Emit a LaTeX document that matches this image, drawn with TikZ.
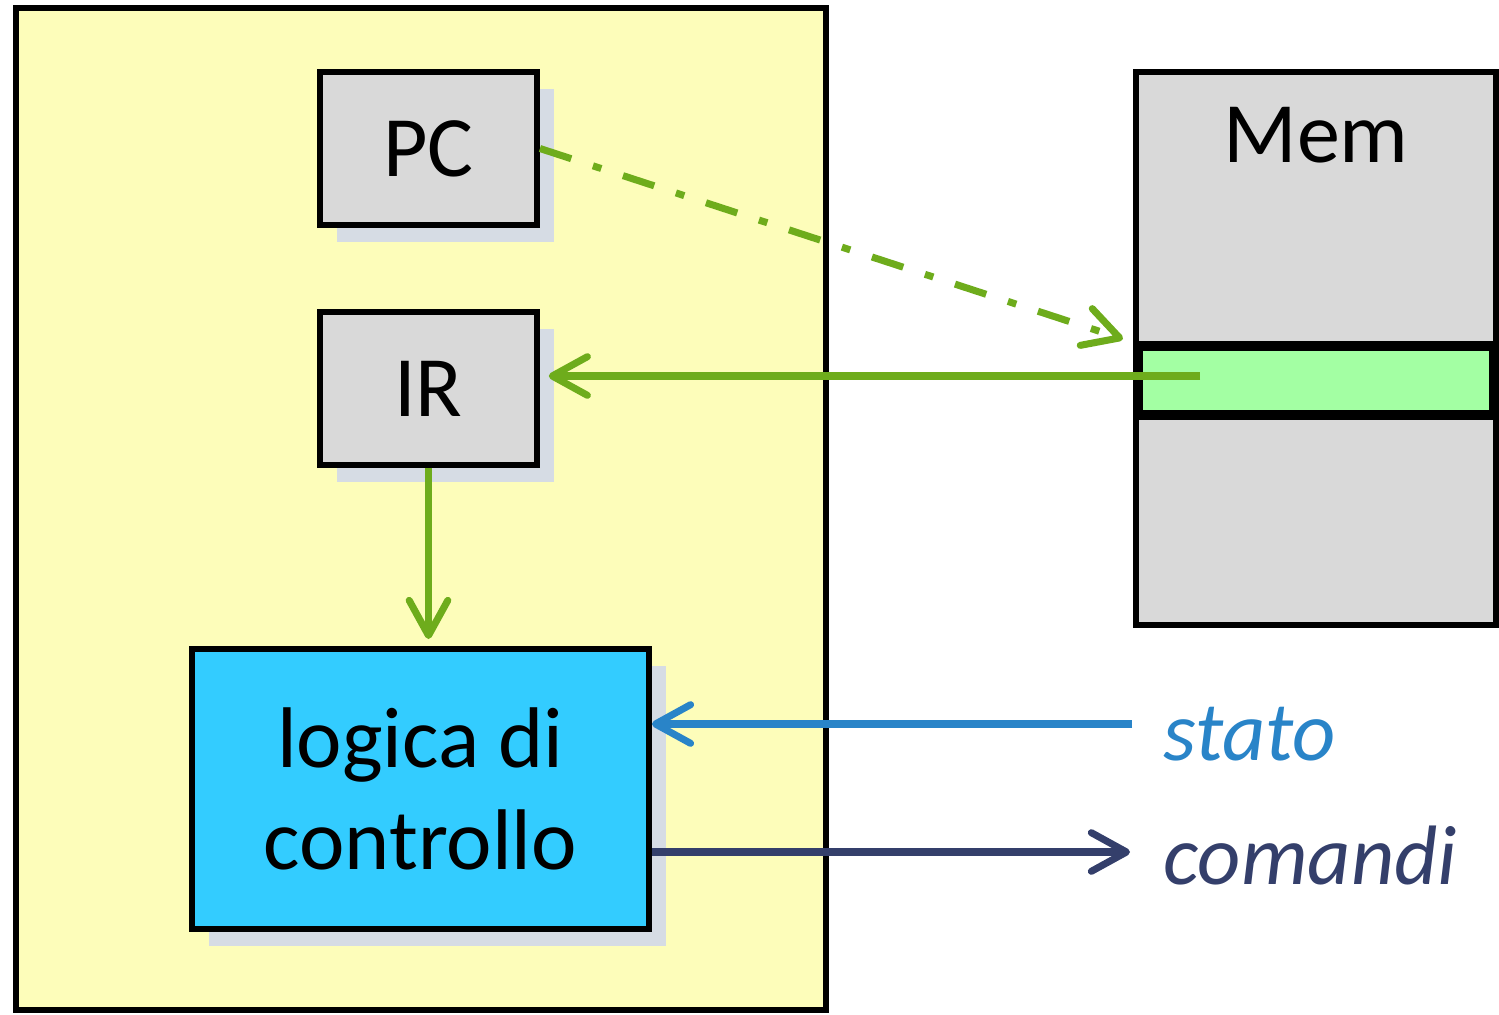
\documentclass[tikz,border=0pt]{standalone}
\usepackage{fontspec}
\setmainfont{Carlito}
\usetikzlibrary{arrows.meta,shadows}

\definecolor{cpuyellow}{HTML}{FDFDBA}
\definecolor{boxgray}{HTML}{D9D9D9}
\definecolor{shadowgray}{HTML}{D6DCE4}
\definecolor{ctrlcyan}{HTML}{33CCFF}
\definecolor{wordgreen}{HTML}{A3FFA3}
\definecolor{arrowgreen}{HTML}{6EAC1C}
\definecolor{statoblue}{HTML}{2984C8}
\definecolor{comnavy}{HTML}{343F6B}

\tikzset{
  bigfont/.style={font=\fontsize{49}{58.4}\selectfont},
  reg/.style={draw=black, line width=3.4pt, fill=boxgray, inner sep=0pt,
    minimum width=4.34cm, minimum height=3.06cm, bigfont,
    drop shadow={shadow xshift=9.5pt, shadow yshift=-9.5pt, fill=shadowgray, opacity=1}},
  bus/.style={line width=4pt, -{Straight Barb[length=20pt, width=22pt, round]}},
  sig/.style={anchor=base west, inner sep=0pt, font=\fontsize{48}{58}\selectfont\itshape}
}

\begin{document}
\begin{tikzpicture}[x=0.02cm, y=-0.02cm]
  \useasboundingbox (0,0) rectangle (1499,1015);
  % cpu
  \draw[line width=3.2pt, fill=cpuyellow] (16,8) rectangle (826,1010);
  \node[reg] (PC) at (428.5,148.5) {PC};
  \node[reg] (IR) at (428.5,388.5) {IR};
  \node[reg, fill=ctrlcyan, minimum width=9.14cm, minimum height=5.6cm, align=center] (logica) at (420.5,789) {logica di\\controllo};
  % memory
  \node[draw=black, line width=3.4pt, fill=boxgray, minimum width=7.2cm, minimum height=11.06cm] (Mem) at (1316,348.5) {};
  \node[bigfont] (memname) at (1316,135) {Mem};
  \node[draw=black, line width=5.7pt, fill=wordgreen, minimum width=7.12cm, minimum height=1.38cm] (word) at (1316,380.5) {};
  % signals
  \node[sig, text=statoblue] (stato) at (1163,760) {stato};
  \node[sig, text=comnavy] (comandi) at (1163,884) {comandi};
  \coordinate (addr) at (1123,339);
  \coordinate (wordin) at (1200,376);
  \coordinate (statoin) at (1132,724);
  \coordinate (comout) at (1130,852);
  % arrows
  \draw[bus, arrowgreen, dash pattern=on 18.7pt off 13pt on 5pt off 13pt] (PC.east) -- (addr);
  \draw[bus, arrowgreen, shorten >=5pt] (wordin) -- (wordin -| IR.east);
  \draw[bus, arrowgreen, shorten >=4pt] (IR.south) -- (IR.south |- logica.north);
  \draw[bus, statoblue] (statoin) -- (statoin -| logica.east);
  \draw[bus, comnavy] (comout -| logica.east) -- (comout);
\end{tikzpicture}
\end{document}
